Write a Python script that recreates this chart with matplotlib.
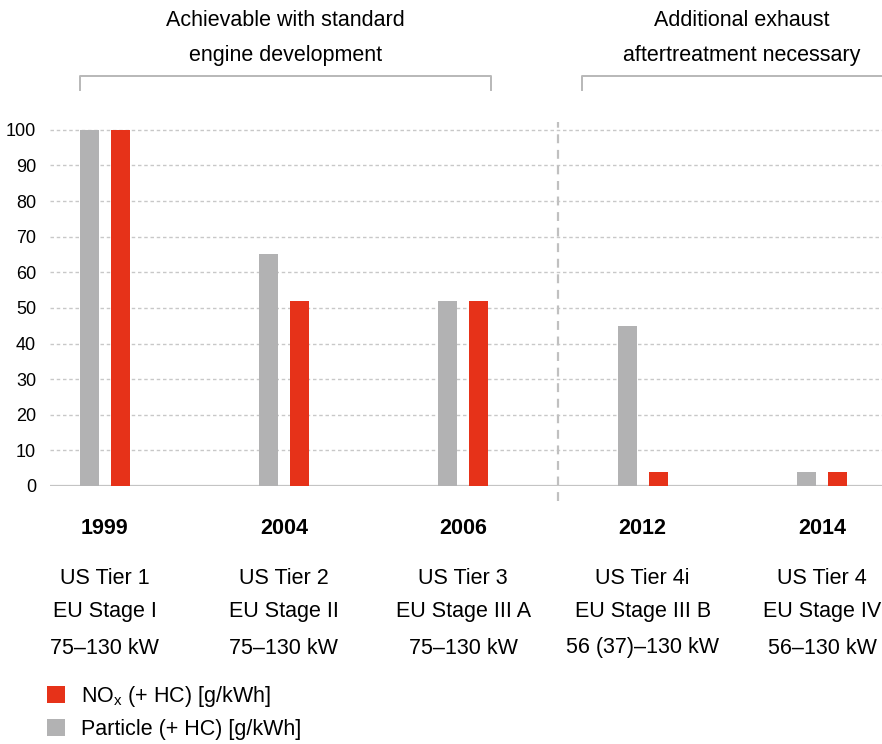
import matplotlib
matplotlib.use("Agg")
from matplotlib import pyplot as plt
from matplotlib.transforms import blended_transform_factory

plt.rcParams['font.family'] = ['Liberation Sans', 'DejaVu Sans']

# 数据
years = ['1999', '2004', '2006', '2012', '2014']
us_tier = ['US Tier 1', 'US Tier 2', 'US Tier 3', 'US Tier 4i', 'US Tier 4']
eu_stage = ['EU Stage I', 'EU Stage II', 'EU Stage III A', 'EU Stage III B', 'EU Stage IV']
power = ['75–130 kW', '75–130 kW', '75–130 kW', '56 (37)–130 kW', '56–130 kW']
particle = [100, 65, 52, 45, 4]
nox = [100, 52, 52, 4, 4]
yticks = list(range(0, 101, 10))

red = '#e63219'
grey = '#b2b2b3'
fs = 15.5

fig = plt.figure(figsize=(8.82, 7.44), dpi=100)
ax = fig.add_axes([50 / 882, 1 - 486 / 744, 832 / 882, 364 / 744])

x = list(range(len(years)))
w = 0.106
off = 0.0864
b_nox = ax.bar([i + off for i in x], nox, width=w, color=red, zorder=3,
               label=r'NO$_\mathregular{x}$ (+ HC) [g/kWh]')
b_par = ax.bar([i - off for i in x], particle, width=w, color=grey, zorder=3,
               label='Particle (+ HC) [g/kWh]')

ax.set_xlim(-0.304, 4.334)
ax.set_ylim(0, 102.2)
ax.set_yticks(yticks)
ax.set_yticklabels([str(v) for v in yticks], fontsize=13)
ax.tick_params(axis='y', length=0, pad=10)
ax.set_xticks([])
for s in ax.spines.values():
    s.set_visible(False)
for v in yticks[1:]:
    ax.axhline(v, color='#c8c8c8', lw=1, ls=(0, (2.5, 2)), zorder=1)
ax.axhline(0, color='#c4c4c4', lw=1.6, zorder=2)

# 分隔线
ax.axvline(2.528, ymin=-0.04, ymax=1.0, color='#c0c0c0', lw=1.6,
           ls=(0, (4, 3)), clip_on=False, zorder=1)

# 分类标签
tr = blended_transform_factory(ax.transData, fig.transFigure)
for i in x:
    ax.text(i, 1 - 528 / 744, years[i], transform=tr, ha='center', va='center',
            fontsize=fs, fontweight='bold')
    ax.text(i, 1 - 578 / 744, us_tier[i], transform=tr, ha='center', va='center', fontsize=fs)
    ax.text(i, 1 - 612 / 744, eu_stage[i], transform=tr, ha='center', va='center', fontsize=fs)
    ax.text(i, 1 - 648 / 744, power[i], transform=tr, ha='center', va='center', fontsize=fs)

# 顶部说明和括号
ax.text(1.01, 1 - 20 / 744, 'Achievable with standard', transform=tr,
        ha='center', va='center', fontsize=fs)
ax.text(1.01, 1 - 55 / 744, 'engine development', transform=tr,
        ha='center', va='center', fontsize=fs)
ax.text(3.55, 1 - 20 / 744, 'Additional exhaust', transform=tr,
        ha='center', va='center', fontsize=fs)
ax.text(3.55, 1 - 55 / 744, 'aftertreatment necessary', transform=tr,
        ha='center', va='center', fontsize=fs)

y_top = 1 - 76 / 744
y_bot = 1 - 90 / 744
ax.plot([-0.139, -0.139, 2.155, 2.155], [y_bot, y_top, y_top, y_bot], transform=tr,
        color='#b8b8b8', lw=1.4, clip_on=False)
ax.plot([2.66, 2.66, 4.4], [y_bot, y_top, y_top], transform=tr,
        color='#b8b8b8', lw=1.4, clip_on=False)

# 图例
fig.legend(handles=[b_nox, b_par], loc='upper left',
           bbox_to_anchor=(47 / 882, 1 - 684 / 744), frameon=False, fontsize=fs,
           handlelength=0.85, handleheight=0.85, handletextpad=0.75, labelspacing=0.45,
           borderaxespad=0, borderpad=0)

fig.savefig('out.png', dpi=100)
